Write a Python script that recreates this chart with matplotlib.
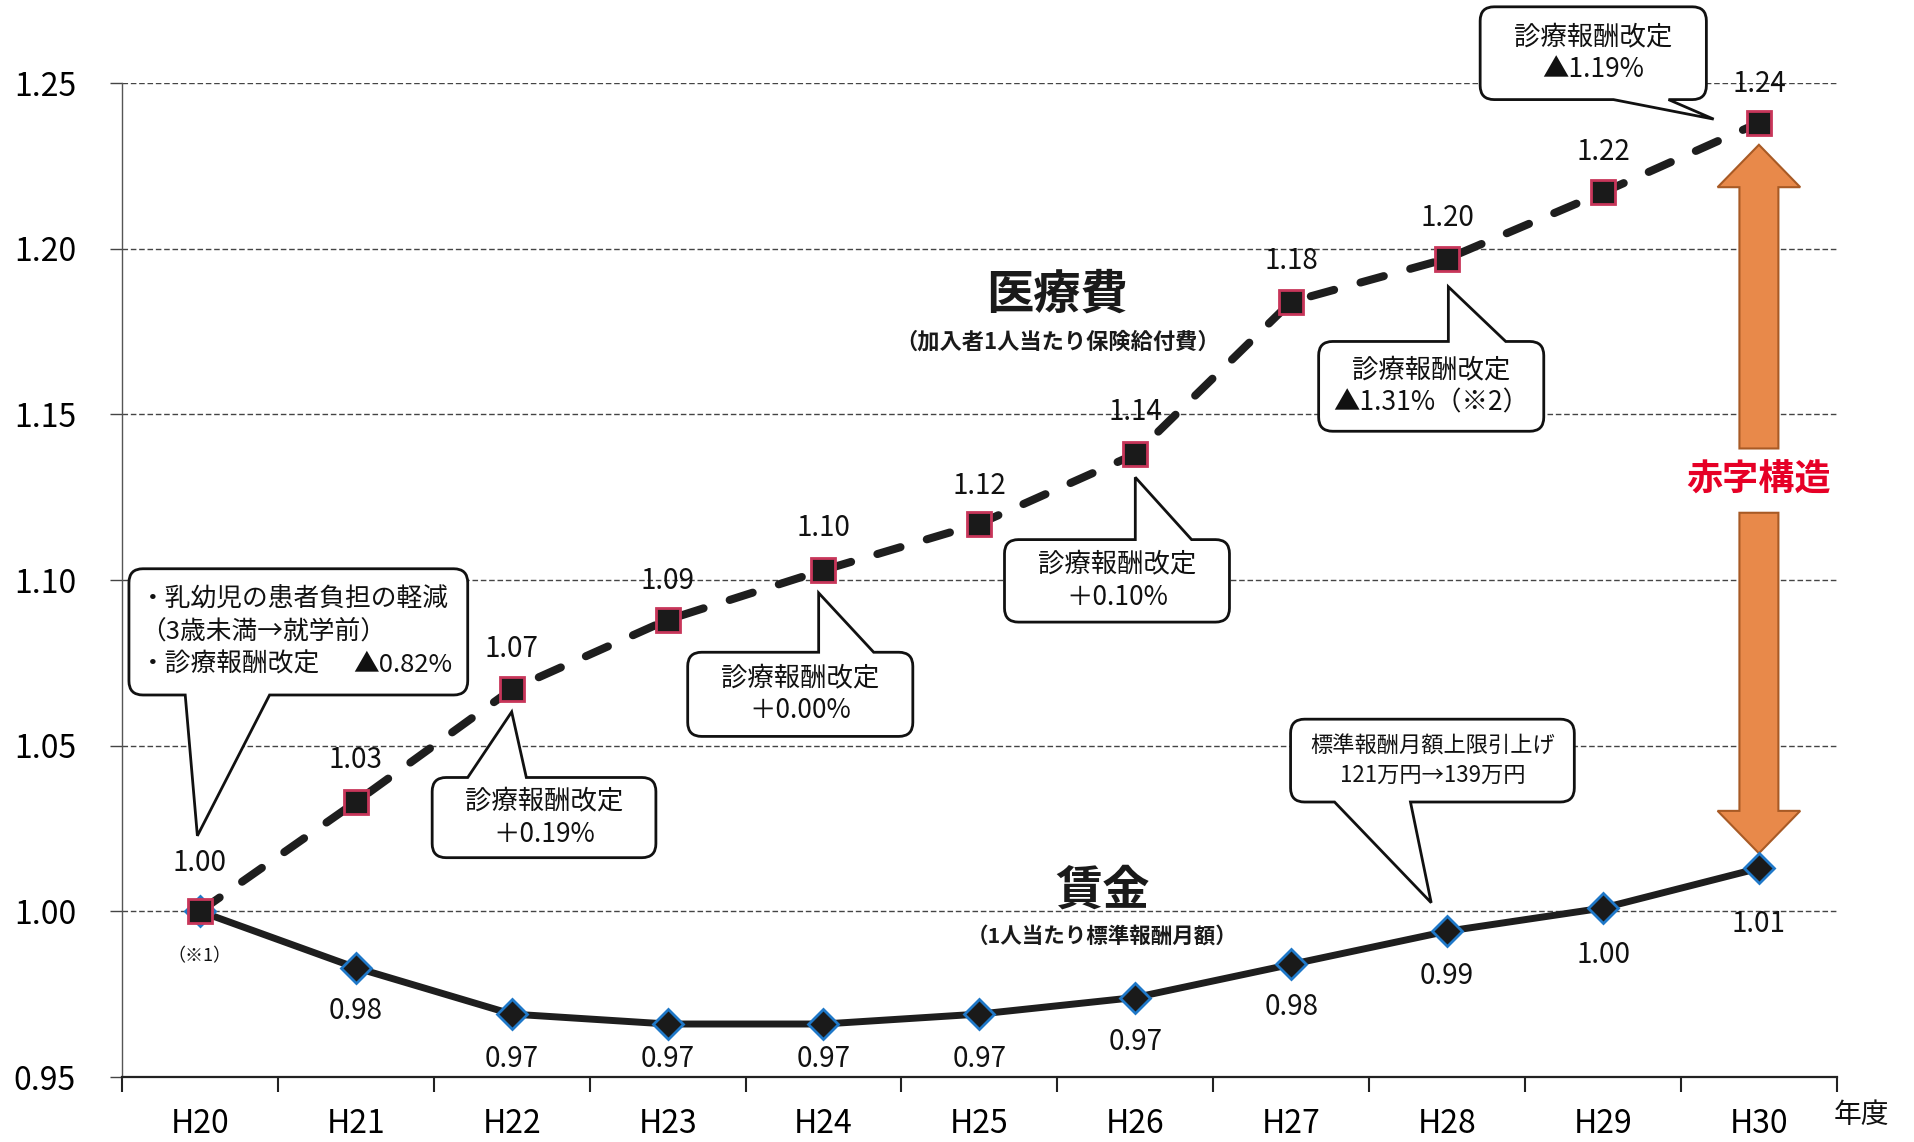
import numpy as np
import matplotlib
matplotlib.use("Agg")
import matplotlib.pyplot as plt
from matplotlib.path import Path
from matplotlib.patches import PathPatch, FancyArrow

plt.rcParams['font.family'] = ['Noto Sans CJK JP', 'DejaVu Sans']

# data
years = ["H20", "H21", "H22", "H23", "H24", "H25", "H26", "H27", "H28", "H29", "H30"]
medical = [1.000, 1.033, 1.067, 1.088, 1.103, 1.117, 1.138, 1.184, 1.197, 1.217, 1.238]
wage = [1.000, 0.983, 0.969, 0.966, 0.966, 0.969, 0.974, 0.984, 0.994, 1.001, 1.013]
y_ticks = [0.95, 1.00, 1.05, 1.10, 1.15, 1.20, 1.25]

# label offsets in points (layout only)
med_off = [35, 30, 29, 28, 30, 27, 30, 29, 29, 29, 28]
wage_off = [0, 31, 32, 25, 25, 32, 32, 31, 32, 34, 40]

AX_POS = [0.0637, 0.0569, 0.896, 0.8704]
PX_X = AX_POS[2] * 1914 / 11.0
PX_Y = AX_POS[3] * 1142 / 0.30

fig = plt.figure(figsize=(19.14, 11.42), dpi=100)
ax = fig.add_axes(AX_POS)
x = np.arange(len(years))

ax.set_xlim(-0.5, len(years) - 0.5)
ax.set_ylim(0.95, 1.25)

# axes styling
for s in ["top", "right"]:
    ax.spines[s].set_visible(False)
ax.spines["left"].set_color("#555555")
ax.spines["left"].set_linewidth(1.0)
ax.spines["bottom"].set_color("#222222")
ax.spines["bottom"].set_linewidth(1.6)
ax.set_axisbelow(True)
ax.yaxis.grid(True, linestyle=(0, (4, 2)), color="#444444", lw=1.0)

ax.set_yticks(y_ticks)
ax.set_yticklabels([f"{v:.2f}" for v in y_ticks])
ax.tick_params(axis="y", length=9, width=1.0, color="#444444", pad=24, labelsize=23)
ax.set_xticks(x)
ax.set_xticklabels(years)
ax.tick_params(axis="x", which="major", length=0, pad=22, labelsize=23)
ax.set_xticks(np.arange(-0.5, len(years), 1.0), minor=True)
ax.tick_params(axis="x", which="minor", length=11, width=1.5, color="#222222")

# series (wage first so the medical square sits on top at H20)
ax.plot(x, wage, color="#1e1e1e", lw=5.0, solid_capstyle="round",
        marker="D", ms=15, mfc="#1a1a1a", mec="#1f78c8", mew=2.0, zorder=6)
ax.plot(x, medical, color="#1e1e1e", lw=5.8, linestyle=(0, (3.0, 3.4)),
        dash_capstyle="round", marker="s", ms=17, mfc="#1a1a1a", mec="#c8365a",
        mew=2.0, zorder=7)

for i, v in enumerate(medical):
    ax.annotate(f"{v:.2f}", (i, v), xytext=(0, med_off[i]), textcoords="offset points",
                ha="center", va="center", fontsize=20, color="#111111", zorder=8)
for i, v in enumerate(wage):
    if i == 0:
        ax.annotate("（※1）", (i, v), xytext=(0, -32), textcoords="offset points",
                    ha="center", va="center", fontsize=13, color="#111111")
        continue
    ax.annotate(f"{v:.2f}", (i, v), xytext=(0, -wage_off[i]), textcoords="offset points",
                ha="center", va="center", fontsize=20, color="#111111", zorder=8)


def callout(ax, box, side, base, tip, r_px=14):
    x0, y0, x1, y1 = box
    rx, ry = r_px / PX_X, r_px / PX_Y
    b_lo, b_hi = base
    verts, codes = [], []

    def add(p, c):
        verts.append(p)
        codes.append(c)

    add((x0 + rx, y1), Path.MOVETO)
    if side == "top":
        add((b_lo, y1), Path.LINETO)
        add(tip, Path.LINETO)
        add((b_hi, y1), Path.LINETO)
    add((x1 - rx, y1), Path.LINETO)
    add((x1, y1), Path.CURVE3)
    add((x1, y1 - ry), Path.CURVE3)
    add((x1, y0 + ry), Path.LINETO)
    add((x1, y0), Path.CURVE3)
    add((x1 - rx, y0), Path.CURVE3)
    if side == "bottom":
        add((b_hi, y0), Path.LINETO)
        add(tip, Path.LINETO)
        add((b_lo, y0), Path.LINETO)
    add((x0 + rx, y0), Path.LINETO)
    add((x0, y0), Path.CURVE3)
    add((x0, y0 + ry), Path.CURVE3)
    add((x0, y1 - ry), Path.LINETO)
    add((x0, y1), Path.CURVE3)
    add((x0 + rx, y1), Path.CURVE3)
    add((x0 + rx, y1), Path.CLOSEPOLY)
    patch = PathPatch(Path(verts, codes), facecolor="white", edgecolor="#111111",
                      lw=2.0, clip_on=False, zorder=5)
    ax.add_patch(patch)


callouts = [
    dict(box=(-0.455, 1.0653, 1.718, 1.1034), side="bottom", base=(-0.094, 0.447),
         tip=(-0.016, 1.0228),
         text="・乳幼児の患者負担の軽減\n（3歳未満→就学前）\n・診療報酬改定",
         extra="▲0.82%", size=18.5, left=True),
    dict(box=(1.490, 1.0162, 2.925, 1.0404), side="top", base=(1.718, 2.094),
         tip=(2.0, 1.0602), text="診療報酬改定\n＋0.19%", size=19),
    dict(box=(3.129, 1.0528, 4.573, 1.0782), side="top", base=(3.969, 4.322),
         tip=(3.969, 1.0961), text="診療報酬改定\n＋0.00%", size=19),
    dict(box=(5.161, 1.0873, 6.604, 1.1122), side="top", base=(6.0, 6.361),
         tip=(6.0, 1.1310), text="診療報酬改定\n＋0.10%", size=19),
    dict(box=(7.176, 1.1449, 8.620, 1.1720), side="top", base=(8.008, 8.376),
         tip=(8.008, 1.1885), text="診療報酬改定\n▲1.31%（※2）", size=19),
    dict(box=(8.212, 1.2450, 9.663, 1.2730), side="bottom", base=(9.067, 9.420),
         tip=(9.710, 1.2391), text="診療報酬改定\n▲1.19%", size=19),
    dict(box=(6.996, 1.0330, 8.816, 1.0580), side="bottom", base=(7.278, 7.765),
         tip=(7.898, 1.0026), text="標準報酬月額上限引上げ\n121万円→139万円", size=16),
]

for c in callouts:
    callout(ax, c["box"], c["side"], c["base"], c["tip"])
    x0, y0, x1, y1 = c["box"]
    if c.get("left"):
        # one text per line so the right-hand part of the last line can sit apart
        lines = c["text"].split("\n")
        step = 1.28 * c["size"] * 100 / 72 / PX_Y
        yc = (y0 + y1) / 2
        for k, ln in enumerate(lines):
            yl = yc + (len(lines) - 1) / 2 * step - k * step
            ax.text(x0 + 0.07, yl, ln, ha="left", va="center",
                    fontsize=c["size"], color="#111111", zorder=8)
        ax.text(x1 - 0.10, yc - (len(lines) - 1) / 2 * step, c["extra"], ha="right",
                va="center", fontsize=c["size"], color="#111111", zorder=8)
    else:
        ax.text((x0 + x1) / 2, (y0 + y1) / 2, c["text"], ha="center", va="center",
                fontsize=c["size"], linespacing=1.3, color="#111111", zorder=8,
                clip_on=False)

# series titles
ax.text(5.50, 1.186, "医療費", ha="center", va="center", fontsize=34,
        fontweight="bold", color="#1a1a1a")
ax.text(5.50, 1.1718, "（加入者1人当たり保険給付費）", ha="center", va="center",
        fontsize=16, fontweight="bold", color="#1a1a1a")
ax.text(5.79, 1.0063, "賃金", ha="center", va="center", fontsize=34,
        fontweight="bold", color="#1a1a1a")
ax.text(5.79, 0.9925, "（1人当たり標準報酬月額）", ha="center", va="center",
        fontsize=15.5, fontweight="bold", color="#1a1a1a")

# deficit arrow at last year
xa = len(years) - 1
top_tip = medical[-1] - 22 / PX_Y
bot_tip = wage[-1] + 15 / PX_Y
mid = 1.13
gap = 0.0097
arrow_kw = dict(width=0.25, head_width=0.53, head_length=0.0128,
                length_includes_head=True, facecolor="#e8894a",
                edgecolor="#a85a25", lw=1.5, zorder=4)
ax.add_patch(FancyArrow(xa, mid + gap, 0, top_tip - (mid + gap), **arrow_kw))
ax.add_patch(FancyArrow(xa, mid - gap, 0, bot_tip - (mid - gap), **arrow_kw))
ax.text(xa, mid, "赤字構造", ha="center", va="center", fontsize=26,
        fontweight="bold", color="#e60026", zorder=8)

ax.text(len(years) - 0.34, 0.9385, "年度", ha="center", va="center", fontsize=20,
        color="#111111", clip_on=False)

fig.savefig("out.png", dpi=100, facecolor="white")
plt.close(fig)
